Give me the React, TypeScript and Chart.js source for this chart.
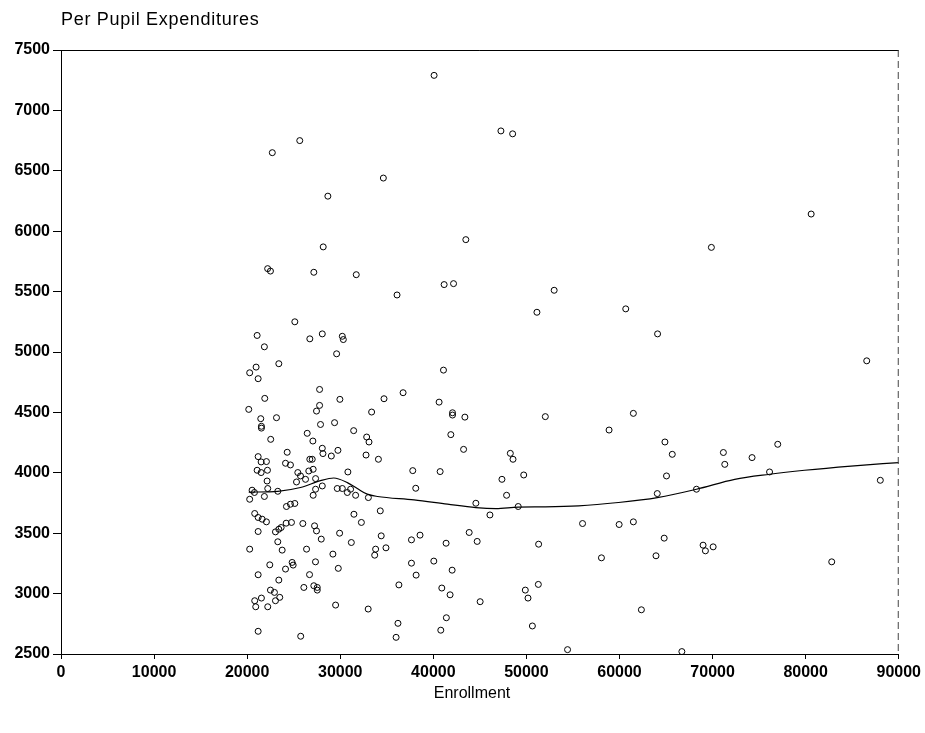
import React, { useEffect, useRef } from 'react';
import { Chart, registerables } from 'chart.js';

Chart.register(...registerables);

const TITLE = 'Per Pupil Expenditures';
const X_TITLE = 'Enrollment';

const enrollment = [
  40080, 47260, 48520, 25650, 22700, 34630, 28670, 43490, 28170, 69870,
  80590, 22200, 22500, 27160, 31720, 41160, 42170, 52980, 36100, 60670,
  51130, 25120, 21070, 26730, 28070, 30220, 30330, 64090, 21850, 29610,
  86560, 23400, 20960, 41090, 20270, 21180, 27780, 36750, 21890, 29960,
  34700, 40620, 20170, 27780, 27450, 33370, 42060, 42060, 43390, 52030,
  61490, 21460, 23150, 21530, 21530, 27880, 29390, 58880, 31440, 26450,
  41880, 32840, 33090, 22530, 27060, 64880, 77000, 43250, 28070, 29750,
  24300, 28140, 48270, 71160, 65670, 29040, 32770, 21180, 74240, 34100,
  48560, 26730, 26990, 21500, 22070, 24120, 24650, 71310, 37790, 40730,
  21070, 21500, 22180, 27090, 26620, 30820, 25440, 76120, 49710, 65050,
  25730, 26270, 47370, 27350, 88020, 22140, 25300, 28070, 38110, 22210,
  29680, 30220, 31110, 27350, 68270, 20530, 20780, 23290, 30760, 64060,
  27090, 31650, 47870, 21850, 33020, 20270, 44570, 24220, 24650, 25120,
  49120, 34300, 20810, 31470, 46080, 21180, 21610, 22070, 61490, 32270,
  24760, 24190, 25980, 56030, 59960, 27240, 23650, 23400, 27450, 21180,
  23040, 43850, 29930, 38570, 34400, 64800, 27960, 37650, 44710, 31190,
  23290, 41370, 51310, 68980, 70060, 34910, 33800, 20270, 26380, 23760,
  69230, 29210, 33700, 63920, 58060, 40050, 27340, 37650, 82800, 22430,
  24830, 24940, 29790, 24120, 42020, 21180, 26700, 38150, 23400, 36300,
  51280, 26090, 27160, 27530, 27530, 40910, 49880, 22500, 22930, 41800,
  23500, 50170, 21530, 20810, 23040, 45030, 20920, 22210, 29500, 33000,
  62350, 36200, 41400, 50640, 21180, 40800, 25750, 36000, 54420, 66700,
];

const expenditure = [
  7290, 6830, 6806, 6750, 6650, 6440, 6290, 5930, 5870, 5866,
  6142, 5690, 5670, 5660, 5640, 5558, 5566, 5511, 5472, 5357,
  5329, 5250, 5137, 5109, 5150, 5130, 5103, 5150, 5043, 4985,
  4927, 4903, 4875, 4850, 4828, 4779, 4690, 4663, 4616, 4608,
  4613, 4585, 4525, 4558, 4511, 4503, 4497, 4478, 4461, 4465,
  4492, 4448, 4456, 4385, 4370, 4400, 4415, 4354, 4349, 4327,
  4316, 4296, 4255, 4277, 4263, 4255, 4236, 4194, 4203, 4186,
  4170, 4159, 4161, 4168, 4153, 4139, 4147, 4134, 4126, 4112,
  4112, 4112, 4112, 4090, 4093, 4079, 4065, 4070, 4018, 4010,
  4021, 4002, 4021, 4029, 4015, 4007, 4002, 4007, 3982, 3974,
  3974, 3946, 3946, 3952, 3938, 3932, 3924, 3891, 3872, 3870,
  3870, 3870, 3864, 3864, 3864, 3856, 3837, 3847, 3837, 3828,
  3814, 3814, 3814, 3804, 3795, 3781, 3748, 3721, 3740, 3746,
  3721, 3685, 3663, 3657, 3651, 3630, 3616, 3594, 3594, 3589,
  3589, 3583, 3580, 3580, 3572, 3561, 3547, 3533, 3519, 3514,
  3511, 3506, 3500, 3484, 3478, 3459, 3451, 3445, 3432, 3423,
  3429, 3417, 3409, 3401, 3387, 3379, 3368, 3368, 3368, 3360,
  3354, 3327, 3318, 3313, 3296, 3269, 3263, 3252, 3263, 3238,
  3258, 3236, 3209, 3203, 3194, 3156, 3157, 3153, 3112, 3072,
  3076, 3051, 3065, 3051, 3029, 3046, 3029, 3029, 3010, 2990,
  2969, 2963, 2963, 2941, 2941, 2933, 2891, 2891, 2905, 2872,
  2866, 2754, 2800, 2732, 2688, 2697, 2647, 2638, 2536, 2520,
];

const fitEnrollment = [
  20170, 23290, 25730, 27880, 29300, 30760, 31830, 32900, 34000, 37930,
  41520, 44570, 46720, 49120, 52030, 55600, 59880, 64060, 68270, 72380,
  76130, 79880, 84870, 90000,
];
const fitExpenditure = [
  3840, 3847, 3878, 3935, 3957, 3919, 3870, 3823, 3804, 3776,
  3740, 3712, 3704, 3716, 3718, 3726, 3754, 3795, 3864, 3946,
  3988, 4021, 4056, 4085,
];

const FONT = '"Liberation Sans", Arial, Helvetica, sans-serif';

export default function App() {
  const ref = useRef<HTMLCanvasElement>(null);

  useEffect(() => {
    document.body.style.margin = '0';
    const canvas = ref.current;
    if (!canvas) return;

    const textPlugin = {
      id: 'frameAndTexts',
      afterDraw(chart: any) {
        const c = chart.ctx as CanvasRenderingContext2D;
        const a = chart.chartArea;
        c.save();
        c.strokeStyle = '#000';
        c.lineWidth = 1;
        c.beginPath();
        c.moveTo(a.left, a.top + 0.5);
        c.lineTo(a.right, a.top + 0.5);
        c.stroke();
        c.setLineDash([7, 4]);
        c.strokeStyle = '#444';
        c.beginPath();
        c.moveTo(a.right - 0.5, a.top);
        c.lineTo(a.right - 0.5, a.bottom);
        c.stroke();
        c.setLineDash([]);
        c.fillStyle = '#000';
        c.textBaseline = 'middle';
        c.textAlign = 'left';
        c.font = `18px ${FONT}`;
        (c as any).letterSpacing = '0.7px';
        c.fillText(TITLE, 61, 20);
        (c as any).letterSpacing = '0px';
        c.font = `16px ${FONT}`;
        c.textAlign = 'center';
        c.fillText(X_TITLE, 472, 694);
        c.restore();
      },
    };

    const tickFont = { family: FONT, size: 16, weight: 'bold' as const };

    const chart = new Chart(canvas, {
      type: 'scatter',
      data: {
        datasets: [
          {
            type: 'scatter',
            data: enrollment.map((x, i) => ({ x, y: expenditure[i] })),
            pointStyle: 'circle',
            pointRadius: 3,
            pointBorderWidth: 1,
            pointBorderColor: '#000',
            pointBackgroundColor: 'rgba(0,0,0,0)',
          } as any,
          {
            type: 'line',
            data: fitEnrollment.map((x, i) => ({ x, y: fitExpenditure[i] })),
            showLine: true,
            borderColor: '#000',
            borderWidth: 1.2,
            pointRadius: 0,
            fill: false,
            tension: 0.4,
            cubicInterpolationMode: 'monotone',
          } as any,
        ],
      },
      options: {
        animation: false,
        responsive: false,
        devicePixelRatio: 1,
        layout: { padding: { top: 50, right: 24, bottom: 0, left: 0 } },
        plugins: {
          legend: { display: false },
          tooltip: { enabled: false },
          title: { display: false },
        },
        scales: {
          x: {
            type: 'linear',
            min: 0,
            max: 90000,
            ticks: {
              stepSize: 10000,
              font: tickFont,
              color: '#000',
              padding: 4,
              maxRotation: 0,
              autoSkip: false,
              callback: (v: any) => String(v),
            },
            grid: {
              display: true,
              drawOnChartArea: false,
              drawTicks: true,
              tickLength: 5,
              color: '#000',
            },
            border: { display: true, color: '#000', width: 1 },
            afterFit: (s: any) => {
              s.height = 79;
            },
          },
          y: {
            type: 'linear',
            min: 2500,
            max: 7500,
            ticks: {
              stepSize: 500,
              font: tickFont,
              color: '#000',
              padding: 3,
              autoSkip: false,
              callback: (v: any) => String(v),
            },
            grid: {
              display: true,
              drawOnChartArea: false,
              drawTicks: true,
              tickLength: 8,
              color: '#000',
            },
            border: { display: true, color: '#000', width: 1 },
            afterFit: (s: any) => {
              s.width = 61;
            },
          },
        },
      } as any,
      plugins: [textPlugin],
    });

    return () => {
      chart.destroy();
    };
  }, []);

  return (
    <div style={{ width: 925, height: 733, background: '#fff' }}>
      <canvas ref={ref} width={925} height={733} style={{ display: 'block' }} />
    </div>
  );
}
